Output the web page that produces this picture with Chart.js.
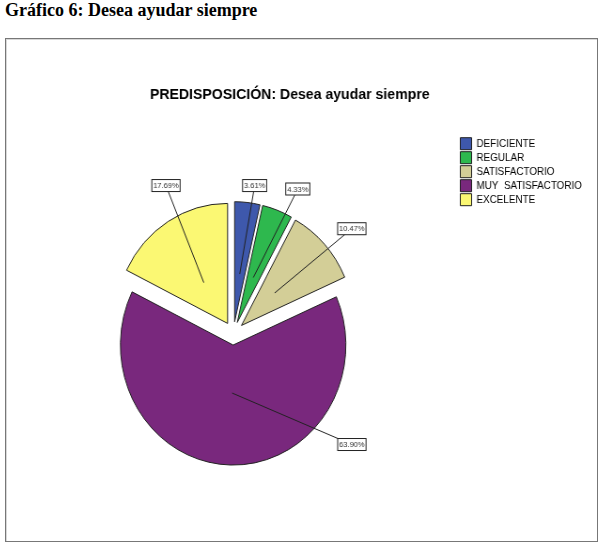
<!DOCTYPE html>
<html>
<head>
<meta charset="utf-8">
<title>Desea ayudar siempre</title>
<script src="https://cdn.jsdelivr.net/npm/chart.js@4.4.1/dist/chart.umd.min.js"></script>
<style>
  body { margin: 0; background: #fff; }
  .heading {
    position: absolute; left: 5px; top: 1px; margin: 0;
    font-family: "Times New Roman", "Liberation Serif", serif;
    font-size: 18px; font-weight: bold; line-height: 18px; color: #000;
  }
  .frame {
    position: absolute; left: 5px; top: 38px; width: 591px; height: 502px;
    border: 1px solid #777; box-shadow: inset 1px 1px 0 #d8d8d8;
  }
  #chart { display: block; }
</style>
</head>
<body>
<h3 class="heading">Gráfico 6: Desea ayudar siempre</h3>
<div class="frame">
  <!-- canvas a 629 px, mostrado a 591 px (la imagen original esta un poco comprimida) -->
  <canvas id="chart" width="629" height="502" style="width:591px;height:502px"></canvas>
</div>
<script>
// datos
const categorias = ['DEFICIENTE', 'REGULAR', 'SATISFACTORIO', 'MUY  SATISFACTORIO', 'EXCELENTE'];
const porcentajes = [3.61, 4.33, 10.47, 63.90, 17.69];
const colores = ['#3e58ac', '#2eb84e', '#d3ce97', '#79287d', '#fbf873'];

const titulo = 'PREDISPOSICIÓN: Desea ayudar siempre';

// donde van las cajitas de porcentaje: [angulo desde arriba (grados), distancia al centro]
const posEtiquetas = [[8.7, 149.5], [25.4, 159.8], [50.3, 163.8], [131.4, 168.1], [334.1, 164.3]];

// separacion de cada porcion
const EXPLODE = 11.7;

const explodePlugin = {
  id: 'explode',
  afterDatasetUpdate: function(chart, args) {
    args.meta.data.forEach(function(arc) {
      const mid = (arc.startAngle + arc.endAngle) / 2;
      arc.x += Math.cos(mid) * EXPLODE;
      arc.y += Math.sin(mid) * EXPLODE;
    });
  }
};

// titulo: el de chart.js queda centrado en todo el ancho, aqui va un poco a la izquierda
const tituloPlugin = {
  id: 'tituloSpss',
  afterDraw: function(chart) {
    const ctx = chart.ctx;
    ctx.save();
    ctx.font = 'bold 15px Arial, "Liberation Sans", sans-serif';
    ctx.fillStyle = '#000';
    ctx.textAlign = 'center';
    ctx.textBaseline = 'middle';
    ctx.fillText(titulo, 302, 56);
    ctx.restore();
  }
};

const etiquetasPlugin = {
  id: 'etiquetas',
  afterDatasetsDraw: function(chart) {
    const ctx = chart.ctx;
    const area = chart.chartArea;
    const cx = (area.left + area.right) / 2;
    const cy = (area.top + area.bottom) / 2;
    const arcs = chart.getDatasetMeta(0).data;

    ctx.save();
    ctx.font = '8px Arial, "Liberation Sans", sans-serif';
    ctx.textAlign = 'center';
    ctx.textBaseline = 'middle';
    arcs.forEach(function(arc, i) {
      const mid = (arc.startAngle + arc.endAngle) / 2;
      const r = arc.outerRadius * 0.4;
      const x0 = arc.x + Math.cos(mid) * r;
      const y0 = arc.y + Math.sin(mid) * r;

      const ang = posEtiquetas[i][0] * Math.PI / 180;
      const lx = cx + Math.sin(ang) * posEtiquetas[i][1];
      const ly = cy - Math.cos(ang) * posEtiquetas[i][1];

      const txt = porcentajes[i].toFixed(2) + '%';
      const w = ctx.measureText(txt).width + 3;
      const h = 12;

      ctx.strokeStyle = '#222';
      ctx.lineWidth = 1;
      ctx.beginPath();
      ctx.moveTo(x0, y0);
      ctx.lineTo(lx, ly);
      ctx.stroke();

      ctx.fillStyle = '#fff';
      ctx.fillRect(lx - w / 2, ly - h / 2, w, h);
      ctx.strokeRect(lx - w / 2, ly - h / 2, w, h);
      ctx.fillStyle = '#333';
      ctx.fillText(txt, lx, ly + 0.5);
    });
    ctx.restore();
  }
};

new Chart(document.getElementById('chart'), {
  type: 'pie',
  data: {
    labels: categorias,
    datasets: [{
      data: porcentajes,
      backgroundColor: colores,
      borderColor: '#222',
      borderWidth: 1,
      radius: 120
    }]
  },
  options: {
    responsive: false,
    animation: false,
    events: [],
    layout: {
      padding: { left: 2.5, right: 9.5, top: 96.7, bottom: 10 }
    },
    plugins: {
      title: { display: false },
      legend: {
        position: 'right',
        align: 'start',
        fullSize: false,
        maxWidth: 138,
        labels: {
          boxWidth: 12,
          boxHeight: 12,
          padding: 2,
          color: '#000',
          font: { family: 'Arial, "Liberation Sans", sans-serif', size: 10.5 }
        }
      },
      tooltip: { enabled: false }
    }
  },
  plugins: [explodePlugin, etiquetasPlugin, tituloPlugin]
});
</script>
</body>
</html>
